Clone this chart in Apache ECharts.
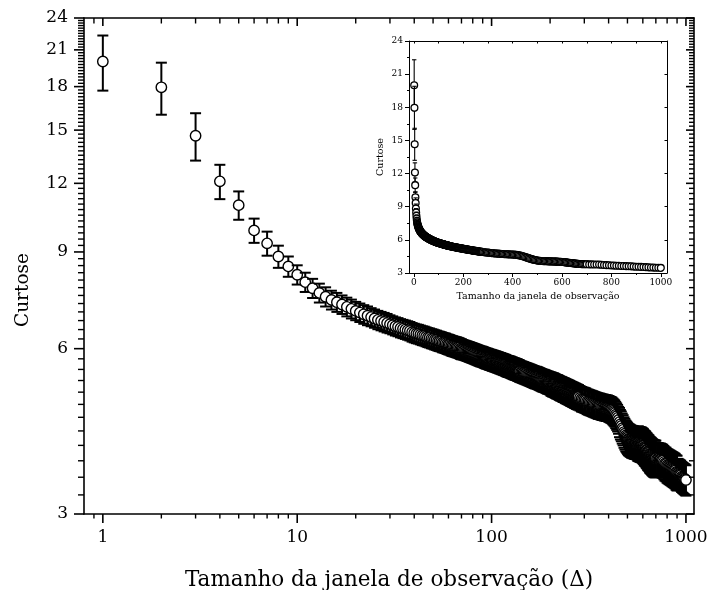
<!DOCTYPE html>
<html><head><meta charset="utf-8">
<script src="https://cdn.jsdelivr.net/npm/echarts@6/dist/echarts.min.js"></script>
<style>html,body{margin:0;padding:0;background:#fff}#c{width:708px;height:590px}</style>
</head><body><div id="c"></div>
<script>
// ---- data ----
const windowSizes = [
  1,2,3,4,5,6,7,8,9,10,11,12,13,14,15,16,17,18,19,20,21,22,23,24,25,26,27,28,29,30,31,32,33,34,35,36,37,38,39,40,
  41,42,43,44,45,46,47,48,49,50,51,52,53,54,55,56,57,58,59,60,61,62,63,64,65,66,67,68,69,70,
  71,72,73,74,75,76,77,78,79,80,81,82,83,84,85,86,87,88,89,90,91,92,93,94,95,96,97,98,99,100,
  101,102,103,104,105,106,107,108,109,110,111,112,113,114,115,116,117,118,119,120,
  121,122,123,124,125,126,127,128,129,130,131,132,133,134,135,136,137,138,139,140,
  142,144,146,148,150,152,154,156,158,160,162,164,166,168,170,172,174,176,178,180,
  182,184,186,188,190,192,194,196,198,200,202,204,206,208,210,212,214,216,218,220,
  222,224,226,228,230,232,234,236,238,240,242,244,246,248,250,252,254,256,258,260,
  262,264,266,268,270,272,274,276,278,280,
  285,290,295,300,305,310,315,320,325,330,335,340,345,350,355,360,365,370,375,380,
  385,390,395,400,405,410,415,420,425,430,435,440,445,450,455,460,465,470,475,480,
  485,490,495,500,505,510,515,520,525,530,535,540,545,550,555,560,565,570,575,580,
  585,590,595,600,605,610,615,620,625,630,635,640,645,650,655,660,665,670,675,680,
  685,690,695,700,
  710,720,730,740,750,760,770,780,790,800,810,820,830,840,850,860,870,880,890,900,
  910,920,930,940,950,960,970,980,990,1000
];
const kurtosis = [
  20.0,17.95,14.65,12.1,10.95,9.85,9.33,8.83,8.47,8.18,7.93,7.73,7.58,7.46,7.36,
  7.29,7.22,7.15,7.09,7.03,6.98,6.93,6.89,6.85,6.81,6.77,6.74,6.71,6.68,6.65,
  6.62,6.59,6.57,6.54,6.52,6.50,6.48,6.46,6.43,6.41,
  6.39,6.38,6.36,6.34,6.33,6.31,6.29,6.28,6.26,6.25,6.23,6.22,6.20,6.19,6.18,6.16,6.15,6.14,6.12,6.11,
  6.10,6.08,6.07,6.06,6.05,6.04,6.03,6.02,6.00,5.99,
  5.98,5.97,5.96,5.95,5.94,5.93,5.92,5.91,5.90,5.89,5.88,5.87,5.86,5.85,5.84,5.83,5.82,5.81,5.81,5.80,
  5.79,5.78,5.77,5.76,5.76,5.75,5.74,5.73,5.73,5.72,
  5.71,5.71,5.70,5.69,5.69,5.68,5.67,5.67,5.66,5.65,5.65,5.64,5.63,5.63,5.62,5.61,5.61,5.60,5.59,5.58,
  5.58,5.57,5.57,5.56,5.56,5.55,5.54,5.54,5.53,5.52,5.52,5.51,5.51,5.50,5.50,5.49,5.48,5.48,5.47,5.46,
  5.45,5.44,5.43,5.42,5.41,5.40,5.39,5.38,5.37,5.36,5.35,5.34,5.33,5.32,5.32,5.31,5.30,5.29,5.28,5.27,
  5.26,5.25,5.25,5.24,5.23,5.22,5.21,5.21,5.20,5.19,5.18,5.17,5.16,5.16,5.15,5.14,5.13,5.12,5.12,5.11,
  5.10,5.09,5.08,5.08,5.07,5.06,5.05,5.05,5.04,5.03,5.02,5.02,5.01,5.00,5.00,4.99,4.98,4.97,4.97,4.96,
  4.95,4.95,4.94,4.93,4.93,4.92,4.91,4.91,4.90,4.90,
  4.88,4.86,4.85,4.84,4.83,4.81,4.80,4.79,4.78,4.77,4.76,4.75,4.74,4.73,4.72,4.72,4.71,4.70,4.70,4.69,
  4.69,4.68,4.68,4.67,4.66,4.65,4.64,4.62,4.60,4.58,4.55,4.52,4.49,4.45,4.41,4.37,4.34,4.30,4.27,4.23,
  4.20,4.17,4.15,4.13,4.11,4.10,4.09,4.08,4.07,4.07,4.06,4.06,4.05,4.05,4.05,4.04,4.04,4.04,4.03,4.03,
  4.02,4.02,4.01,4.00,3.99,3.97,3.96,3.95,3.93,3.92,3.90,3.89,3.88,3.86,3.85,3.84,3.83,3.82,3.81,3.80,
  3.80,3.79,3.79,3.79,
  3.78,3.78,3.77,3.77,3.76,3.75,3.73,3.71,3.70,3.68,3.67,3.66,3.65,3.64,3.63,3.62,3.61,3.60,3.58,3.57,
  3.56,3.55,3.54,3.53,3.51,3.50,3.49,3.48,3.47,3.46
];
const kurtosisErr = [
  2.3,1.95,1.45,0.87,0.65,0.50,0.47,0.41,0.36,0.33,0.32,0.31,0.30,0.30,0.29,
  0.29,0.28,0.28,0.28,0.27,0.27,0.27,0.27,0.26,0.26,0.26,0.26,0.26,0.26,0.25,
  0.25,0.25,0.25,0.25,0.25,0.25,0.25,0.25,0.25,0.25,
  0.25,0.25,0.25,0.25,0.25,0.25,0.25,0.25,0.25,0.25,0.25,0.25,0.25,0.25,0.25,0.25,0.25,0.25,0.25,0.25,
  0.25,0.25,0.25,0.25,0.25,0.25,0.25,0.25,0.25,0.25,
  0.24,0.24,0.24,0.24,0.24,0.24,0.24,0.24,0.24,0.24,0.24,0.24,0.24,0.24,0.24,0.24,0.24,0.24,0.24,0.24,
  0.24,0.24,0.24,0.24,0.24,0.24,0.24,0.24,0.24,0.24,
  0.24,0.24,0.24,0.24,0.24,0.24,0.24,0.24,0.24,0.24,0.24,0.24,0.24,0.24,0.24,0.24,0.24,0.24,0.24,0.24,
  0.24,0.24,0.24,0.24,0.24,0.24,0.24,0.24,0.24,0.24,0.24,0.24,0.24,0.24,0.24,0.24,0.24,0.24,0.24,0.24,
  0.24,0.24,0.24,0.24,0.24,0.24,0.24,0.24,0.24,0.24,0.24,0.24,0.24,0.24,0.24,0.24,0.24,0.24,0.24,0.24,
  0.24,0.24,0.24,0.24,0.24,0.24,0.24,0.24,0.24,0.24,0.25,0.25,0.25,0.25,0.25,0.25,0.25,0.25,0.25,0.25,
  0.25,0.25,0.25,0.25,0.25,0.25,0.25,0.25,0.25,0.25,0.25,0.25,0.25,0.25,0.25,0.25,0.25,0.25,0.25,0.25,
  0.25,0.25,0.25,0.25,0.25,0.25,0.25,0.25,0.25,0.25,
  0.25,0.25,0.25,0.25,0.25,0.25,0.25,0.25,0.25,0.25,0.25,0.25,0.25,0.25,0.25,0.25,0.25,0.25,0.25,0.25,
  0.25,0.25,0.25,0.25,0.25,0.25,0.25,0.25,0.25,0.25,0.25,0.25,0.25,0.25,0.27,0.27,0.27,0.27,0.27,0.27,
  0.27,0.27,0.27,0.27,0.27,0.27,0.27,0.27,0.27,0.27,0.27,0.27,0.27,0.27,0.27,0.27,0.29,0.29,0.29,0.29,
  0.29,0.29,0.29,0.29,0.29,0.29,0.29,0.29,0.29,0.29,0.29,0.29,0.29,0.29,0.29,0.29,0.29,0.29,0.29,0.29,
  0.29,0.29,0.29,0.29,
  0.26,0.26,0.26,0.26,0.26,0.26,0.26,0.26,0.26,0.26,0.26,0.26,0.26,0.26,0.26,0.26,0.26,0.26,0.26,0.26,
  0.22,0.22,0.22,0.22,0.22,0.22,0.22,0.22,0.22,0.22
];

// tick / label values
const xMajorTicks = [1,10,100,1000];
const xMinorTicks = [0.9,2,3,4,5,6,7,8,9,20,30,40,50,60,70,80,90,200,300,400,500,600,700,800,900];
const yMajorTicks = [3,6,9,12,15,18,21,24];
const yMinorTicks = [];
for (let k = 13; k < 96; k++) { if (k % 12 !== 0) yMinorTicks.push(k / 4); }
const insetXMajor = [0,200,400,600,800,1000];
const insetXMinor = [100,300,500,700,900];
const insetXTop = [0,100,200,300,400,500,600,700,800,900,1000];
const insetYMajor = [3,6,9,12,15,18,21,24];
const insetYMinor = [4.5,7.5,10.5,13.5,16.5,19.5,22.5];

const xTitle = 'Tamanho da janela de observação (Δ)';
const xTitleInset = 'Tamanho da janela de observação';
const yTitle = 'Curtose';

const FONT = 'DejaVu Serif';
const X_MIN = 0.8, X_MAX = 1100, Y_MIN = 3, Y_MAX = 24;
const points = windowSizes.map((x, i) => [x, kurtosis[i], kurtosisErr[i]]);

function fmt(v) { return String(Math.round(v * 1000) / 1000); }

function ax(o) {
  const base = {
    axisLine: {show: false, onZero: false, lineStyle: {color: '#000', width: 1.6}},
    axisTick: {show: false},
    axisLabel: {show: false},
    splitLine: {show: false},
    minorTick: {show: false},
    minorSplitLine: {show: false}
  };
  return Object.assign(base, o);
}
function tick(vals, len, inside, w) {
  return {show: true, customValues: vals, length: len, inside: inside, lineStyle: {color: '#000', width: w}};
}
const mainLine = {show: true, onZero: false, lineStyle: {color: '#000', width: 1.6}};
const insLine = {show: true, onZero: false, lineStyle: {color: '#000', width: 1}};

const mainX = {type: 'log', gridIndex: 0, min: X_MIN, max: X_MAX};
const mainY = {type: 'log', gridIndex: 0, min: Y_MIN, max: Y_MAX};
const insX = {type: 'value', gridIndex: 1, min: -20, max: 1025};
const insY = {type: 'value', gridIndex: 1, min: 3, max: 24};

const xAxes = [
  ax(Object.assign({}, mainX, {position: 'bottom', axisLine: mainLine,
    axisLabel: {show: true, customValues: xMajorTicks, margin: 15, fontSize: 17, fontFamily: FONT, color: '#000', formatter: fmt},
    name: xTitle, nameLocation: 'middle', nameGap: 55,
    nameTextStyle: {fontSize: 21.5, fontFamily: FONT, color: '#000'}})),
  ax(Object.assign({}, mainX, {position: 'top', axisLine: mainLine})),
  // inset
  ax(Object.assign({}, insX, {position: 'bottom', axisLine: insLine,
    axisTick: tick(insetXMajor, 4, false, 1),
    axisLabel: {show: true, customValues: insetXMajor, margin: 5, fontSize: 9, fontFamily: FONT, color: '#000', formatter: fmt},
    name: xTitleInset, nameLocation: 'middle', nameGap: 19,
    nameTextStyle: {fontSize: 9.5, fontFamily: FONT, color: '#000'}})),
  ax(Object.assign({}, insX, {position: 'bottom', axisTick: tick(insetXMinor, 2, false, 1)})),
  ax(Object.assign({}, insX, {position: 'top', axisLine: insLine, axisTick: tick(insetXTop, 2.5, true, 1)}))
];
const yAxes = [
  ax(Object.assign({}, mainY, {position: 'left', axisLine: mainLine,
    axisLabel: {show: true, customValues: yMajorTicks, margin: 16, fontSize: 17, fontFamily: FONT, color: '#000', formatter: fmt},
    name: yTitle, nameLocation: 'middle', nameGap: 51,
    nameTextStyle: {fontSize: 18.5, fontFamily: FONT, color: '#000', padding: [0, 48, 0, 0]}})),
  ax(Object.assign({}, mainY, {position: 'right', axisLine: mainLine})),
  // inset
  ax(Object.assign({}, insY, {position: 'left', axisLine: insLine,
    axisTick: tick(insetYMajor, 4, false, 1),
    axisLabel: {show: true, customValues: insetYMajor, margin: 6, fontSize: 9, fontFamily: FONT, color: '#000', formatter: fmt},
    name: yTitle, nameLocation: 'middle', nameGap: 23,
    nameTextStyle: {fontSize: 9.5, fontFamily: FONT, color: '#000'}})),
  ax(Object.assign({}, insY, {position: 'left', axisTick: tick(insetYMinor, 2, false, 1)})),
  ax(Object.assign({}, insY, {position: 'right', axisLine: insLine, axisTick: tick(insetYMajor, 2.5, true, 1)}))
];

// error bar + symbol drawn together, point after point
function pointRender(capHalf, lw, r, blw) {
  return function (params, api) {
    const x = api.value(0), y = api.value(1), e = api.value(2);
    const c = api.coord([x, y]);
    const t = api.coord([x, y + e]);
    const b = api.coord([x, y - e]);
    const st = {stroke: '#000', lineWidth: lw, fill: null};
    return {type: 'group', children: [
      {type: 'line', shape: {x1: t[0], y1: t[1], x2: b[0], y2: b[1]}, style: st},
      {type: 'line', shape: {x1: t[0] - capHalf, y1: t[1], x2: t[0] + capHalf, y2: t[1]}, style: st},
      {type: 'line', shape: {x1: b[0] - capHalf, y1: b[1], x2: b[0] + capHalf, y2: b[1]}, style: st},
      {type: 'circle', shape: {cx: c[0], cy: c[1], r: r}, style: {fill: '#fff', stroke: '#000', lineWidth: blw}}
    ]};
  };
}

// main-frame ticks placed through the log scales
function xTickRender(lenOut, lenIn, lw) {
  return function (params, api) {
    const v = api.value(0);
    const b = api.coord([v, Y_MIN]);
    const t = api.coord([v, Y_MAX]);
    const st = {stroke: '#000', lineWidth: lw};
    return {type: 'group', children: [
      {type: 'line', shape: {x1: b[0], y1: b[1], x2: b[0], y2: b[1] + lenOut}, style: st},
      {type: 'line', shape: {x1: t[0], y1: t[1], x2: t[0], y2: t[1] + lenIn}, style: st}
    ]};
  };
}
function yTickRender(lenOut, lenIn, lw) {
  return function (params, api) {
    const v = api.value(1);
    const l = api.coord([X_MIN, v]);
    const r = api.coord([X_MAX, v]);
    const st = {stroke: '#000', lineWidth: lw};
    return {type: 'group', children: [
      {type: 'line', shape: {x1: l[0] - lenOut, y1: l[1], x2: l[0], y2: l[1]}, style: st},
      {type: 'line', shape: {x1: r[0] - lenIn, y1: r[1], x2: r[0], y2: r[1]}, style: st}
    ]};
  };
}
function tickSeries(kind, vals, render) {
  return {type: 'custom', xAxisIndex: 0, yAxisIndex: 0, silent: true, clip: false, z: 5,
    data: kind === 'x' ? vals.map(v => [v, Y_MIN]) : vals.map(v => [X_MIN, v]),
    encode: {x: 0, y: 1}, renderItem: render};
}

const chart = echarts.init(document.getElementById('c'), null, {renderer: 'canvas'});
chart.setOption({
  animation: false,
  backgroundColor: '#fff',
  grid: [
    {left: 84, right: 14, top: 18, bottom: 76, containLabel: false, outerBoundsMode: 'none'},
    {left: 409, right: 41, top: 41, bottom: 317, containLabel: false, outerBoundsMode: 'none'}
  ],
  xAxis: xAxes,
  yAxis: yAxes,
  series: [
    {type: 'custom', xAxisIndex: 0, yAxisIndex: 0, data: points, encode: {x: 0, y: 1},
     renderItem: pointRender(5.5, 2, 5.2, 1.4), silent: true, z: 2},
    {type: 'custom', xAxisIndex: 2, yAxisIndex: 2, data: points, encode: {x: 0, y: 1},
     renderItem: pointRender(2.2, 1.1, 3.4, 1.3), silent: true, z: 2},
    tickSeries('x', xMajorTicks, xTickRender(9, 8, 1.6)),
    tickSeries('x', xMinorTicks, xTickRender(4.5, 5.5, 1.4)),
    tickSeries('y', yMajorTicks, yTickRender(10, 8, 1.6)),
    tickSeries('y', yMinorTicks, yTickRender(6, 5, 1.4))
  ]
});
</script></body></html>
